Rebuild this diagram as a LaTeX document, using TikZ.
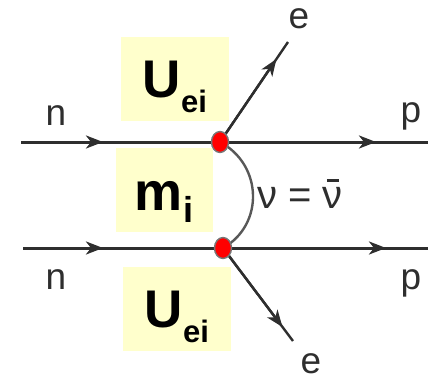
\documentclass[tikz,border=0pt]{standalone}
\usepackage{fontspec}
\setmainfont{Liberation Sans}
\usepackage{tikz}
\usetikzlibrary{arrows.meta,calc,shapes.geometric}
\definecolor{boxyellow}{HTML}{FFFFCC}
\definecolor{linegray}{HTML}{2E2E2E}
\definecolor{rimgray}{HTML}{777777}

\begin{document}
\begin{tikzpicture}[x=1pt,y=-1pt,
    >={Stealth[length=17pt,width=13pt,inset=5pt]},
    line/.style={draw=linegray, line width=3pt},
    legline/.style={draw=linegray, line width=2.4pt},
    ybox/.style={fill=boxyellow, inner sep=0pt},
    lbl/.style={text=linegray, anchor=base, inner sep=0pt, font=\fontsize{37}{37}\selectfont},
    big/.style={anchor=base, inner sep=0pt, font=\bfseries\fontsize{53}{53}\selectfont},
    vertex/.style={ellipse, fill=red, draw=rimgray, line width=1.4pt,
                   minimum width=17pt, minimum height=21pt, inner sep=0pt}]
  \useasboundingbox (0,0) rectangle (437,380);

  % yellow boxes
  \node[ybox, minimum width=108pt, minimum height=84pt] (uboxtop) at (175,79) {};
  \node[ybox, minimum width=97pt, minimum height=84pt] (mbox) at (164.5,190) {};
  \node[ybox, minimum width=108pt, minimum height=84pt] (uboxbot) at (177,309) {};
  \node[big] (utop) at (175,97) {U\raisebox{-15pt}{\fontsize{31}{31}\selectfont ei}};
  \node[big, font=\bfseries\fontsize{54}{54}\selectfont] (mi) at (164,210)
    {m\raisebox{-12pt}{\fontsize{36}{36}\selectfont i}};
  \node[big] (ubot) at (177,327) {U\raisebox{-15pt}{\fontsize{31}{31}\selectfont ei}};

  % points
  \coordinate (vt) at (220,142);
  \coordinate (vb) at (223,248);
  \coordinate (nt) at (21,142);
  \coordinate (pt) at (428,142);
  \coordinate (nb) at (23,248);
  \coordinate (pb) at (428,248);
  \coordinate (et) at (288,42);
  \coordinate (eb) at (293,341);

  % nucleon lines
  \draw[line] (nt) -- (pt);
  \draw[line,->] (nt) -- (103,142);
  \draw[line,->] (vt) -- (376,142);
  \draw[line] (nb) -- (pb);
  \draw[line,->] (nb) -- (103,248);
  \draw[line,->] (vb) -- (386,248);

  % electrons
  \draw[legline] (vt) -- (et);
  \draw[legline,->] (vt) -- ($(vt)!0.83!(et)$);
  \draw[legline] (vb) -- (eb);
  \draw[legline,->] (vb) -- ($(vb)!0.85!(eb)$);

  % neutrino
  \draw[legline, draw=linegray!80] (vt) .. controls (263,165) and (264,225) .. (vb);

  \node[vertex] (dt) at (vt) {};
  \node[vertex] (db) at (vb) {};

  % labels
  \node[lbl] (ntl) at (56,125) {n};
  \node[lbl] (nbl) at (56,289) {n};
  \node[lbl] (ptl) at (411,122) {p};
  \node[lbl] (pbl) at (411,289) {p};
  \node[lbl] (etl) at (299,28) {e};
  \node[lbl] (ebl) at (311,373) {e};
  \node[lbl, font=\fontsize{40}{40}\selectfont] (nu) at (300,208)
    {ν = \ooalign{ν\cr\hidewidth\raisebox{26pt}{\rule{12pt}{3pt}}\hidewidth\cr}};
\end{tikzpicture}
\end{document}
